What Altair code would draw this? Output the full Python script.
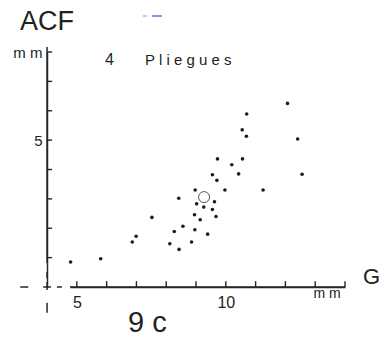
import altair as alt
import pandas as pd

# Scatter data (G in mm, ACF in mm)
g_vals = [12.07, 10.70, 10.55, 10.69, 12.41, 9.72, 10.56, 10.20, 10.43, 12.56,
          9.55, 9.70, 8.97, 9.97, 11.25, 8.42, 9.62, 9.02, 9.26, 9.55,
          8.95, 9.67, 7.52, 9.14, 8.56, 8.96, 8.27, 9.39, 8.12, 8.85,
          8.43, 4.79, 5.80, 6.86, 6.99]
acf_vals = [6.25, 5.89, 5.35, 5.13, 5.04, 4.36, 4.36, 4.16, 3.85, 3.84,
            3.82, 3.63, 3.30, 3.30, 3.30, 3.02, 2.90, 2.83, 2.72, 2.64,
            2.46, 2.40, 2.37, 2.29, 2.07, 1.95, 1.89, 1.80, 1.47, 1.53,
            1.28, 0.85, 0.96, 1.53, 1.73]

# Mean point (open circle)
mean_g = [9.27]
mean_acf = [3.06]

# Ticks and labels
x_ticks = [5, 6, 7, 8, 9, 10, 11, 12, 13, 14]
y_ticks = [1, 2, 3, 4, 5, 6, 7, 8]
x_labels = [5, 10]
y_labels = [5, 8]

# Broken axis segments (data units)
hseg_x1 = [3.10, 3.87, 4.33]
hseg_x2 = [3.37, 4.13, 4.50]
hline_x = [4.77, 14.0]
vseg_y1 = [0.82, 0.31, -0.10, -0.54]
vseg_y2 = [8.17, 0.51, 0.17, -0.88]

FONT = "Liberation Sans"
INK = "#222222"
LINE = "#262626"

df = pd.DataFrame({"g": g_vals, "a": acf_vals})
df_mean = pd.DataFrame({"g": mean_g, "a": mean_acf})
df_h = pd.DataFrame({"g": hseg_x1, "g2": hseg_x2, "a": [0.0] * len(hseg_x1)})
df_hl = pd.DataFrame({"g": hline_x, "a": [0.0] * len(hline_x)})
df_v = pd.DataFrame({"a": vseg_y1, "a2": vseg_y2, "g": [4.0] * len(vseg_y1)})
df_xt = pd.DataFrame({"g": x_ticks, "a": [0.0] * len(x_ticks), "a2": [0.2] * len(x_ticks)})
df_yt = pd.DataFrame({"a": y_ticks, "g": [4.0] * len(y_ticks), "g2": [4.17] * len(y_ticks)})

sx = alt.Scale(domain=[4.77, 14], nice=False, zero=False)
sy = alt.Scale(domain=[0, 8], nice=False, zero=False)

xax = alt.Axis(orient="bottom", values=x_labels, domain=True, domainColor=LINE,
               domainWidth=1.6, ticks=False, grid=False,
               labelFontSize=16, labelPadding=7, labelColor=INK, labelFont=FONT, title=None)
yax = alt.Axis(orient="left", offset=23, values=y_labels,
               labelExpr="datum.value == 8 ? 'm m' : datum.label",
               domain=True, domainColor=LINE, domainWidth=1.5, ticks=False, grid=False,
               labelFontSize=15, labelPadding=5, labelColor=INK, labelFont=FONT, title=None)

X = alt.X("g:Q", scale=sx, axis=xax)
Y = alt.Y("a:Q", scale=sy, axis=yax)

h_line = alt.Chart(df_hl).mark_line(color=LINE, strokeWidth=1.6, clip=False).encode(x=X, y=Y)
h_axis = alt.Chart(df_h).mark_rule(color=LINE, strokeWidth=1.5, opacity=1).encode(x=X, x2="g2:Q", y=Y)
v_axis = alt.Chart(df_v).mark_rule(color=LINE, strokeWidth=1.5, opacity=1).encode(x=X, y=Y, y2="a2:Q")
x_tick_marks = alt.Chart(df_xt).mark_rule(color=LINE, strokeWidth=1.4, opacity=1).encode(x=X, y=Y, y2="a2:Q")
y_tick_marks = alt.Chart(df_yt).mark_rule(color=LINE, strokeWidth=1.4, opacity=1).encode(x=X, x2="g2:Q", y=Y)

pts = alt.Chart(df).mark_circle(size=13, color="#1c1c1c", opacity=1).encode(x=X, y=Y)
ring = alt.Chart(df_mean).mark_point(shape="circle", size=121, filled=False,
                                     color="#555555", strokeWidth=1, opacity=1).encode(x=X, y=Y)

# small coloured scan mark near the top
blip = alt.Chart(pd.DataFrame({"k": [0]})).mark_rule(color="#7b62d6", strokeWidth=1.5).encode(
    x=alt.value(82), x2=alt.value(92), y=alt.value(-36))
blip2 = alt.Chart(pd.DataFrame({"k": [0]})).mark_rule(color="#999999", strokeWidth=1).encode(
    x=alt.value(73), x2=alt.value(77), y=alt.value(-36))


def label(txt, px, py, size, align="left"):
    return alt.Chart(pd.DataFrame({"t": [txt]})).mark_text(
        text=txt, font=FONT, fontSize=size, color=INK, align=align,
        baseline="alphabetic").encode(x=alt.value(px), y=alt.value(py))


texts = [
    label("ACF", -50, -22, 27),
    label("4", 35, 13, 16),
    label("P l i e g u e s", 75, 13, 15),
    label("G", 293, 232, 22),
    label("9 c", 58, 280, 29),
    label("m m", 257, 246, 14, align="center"),
]

chart = alt.layer(pts, ring, h_line, h_axis, v_axis, x_tick_marks, y_tick_marks,
                  blip, blip2, *texts).properties(
    width=275, height=235,
    padding={"left": 70, "top": 52, "right": 37, "bottom": 56},
    autosize=alt.AutoSizeParams(type="none"),
    background="white",
).configure_view(strokeWidth=0)

chart.save("out.html", embed_options={"renderer": "svg", "actions": False})
